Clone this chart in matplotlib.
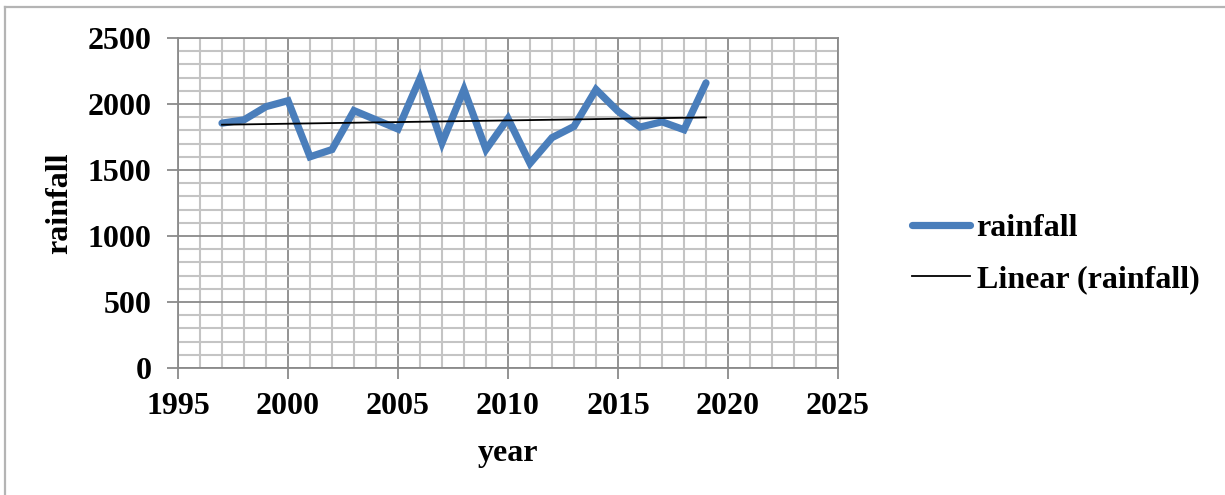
import numpy as np
import matplotlib
matplotlib.use("Agg")
import matplotlib.pyplot as plt
from matplotlib.ticker import MultipleLocator
from matplotlib.lines import Line2D

# Annual rainfall series
years = [1997, 1998, 1999, 2000, 2001, 2002, 2003, 2004, 2005, 2006, 2007, 2008,
         2009, 2010, 2011, 2012, 2013, 2014, 2015, 2016, 2017, 2018, 2019]
rainfall = [1855, 1880, 1980, 2025, 1600, 1655, 1950, 1880, 1810, 2195, 1705, 2110,
            1655, 1890, 1550, 1745, 1830, 2110, 1945, 1825, 1865, 1805, 2160]

x_ticks = [1995, 2000, 2005, 2010, 2015, 2020, 2025]
y_ticks = [0, 500, 1000, 1500, 2000, 2500]

plt.rcParams["font.family"] = ["Liberation Serif", "DejaVu Serif"]
plt.rcParams["font.weight"] = "bold"
FS = 23

W, H = 1225, 495
fig = plt.figure(figsize=(W / 100, H / 100), dpi=100)
fig.patch.set_facecolor("white")

# page frame lines (top and left)
border = "#b4b4b4"
fig.add_artist(Line2D([5 / W, 1.0], [1 - 7 / H, 1 - 7 / H], color=border, lw=1.6,
                      transform=fig.transFigure))
fig.add_artist(Line2D([5 / W, 5 / W], [0.0, 1 - 7 / H], color=border, lw=1.6,
                      transform=fig.transFigure))

ax = fig.add_axes([178 / W, 1 - 368 / H, (838 - 178) / W, (368 - 38) / H])

major_c = "#8a8a8a"
minor_c = "#c4c4c4"

ax.set_xlim(1995, 2025)
ax.set_ylim(0, 2500)
ax.xaxis.set_major_locator(MultipleLocator(5))
ax.xaxis.set_minor_locator(MultipleLocator(1))
ax.yaxis.set_major_locator(MultipleLocator(500))
ax.yaxis.set_minor_locator(MultipleLocator(100))
ax.set_xticks(x_ticks)
ax.set_yticks(y_ticks)

ax.grid(which="minor", color=minor_c, lw=1.5, zorder=0)
ax.grid(which="major", color=major_c, lw=1.3, zorder=0.5)
ax.set_axisbelow(True)

for s in ax.spines.values():
    s.set_color(major_c)
    s.set_linewidth(1.3)

ax.tick_params(which="major", length=8, width=1.3, color=major_c, direction="out",
               labelsize=FS)
ax.tick_params(axis="x", which="major", pad=9)
ax.tick_params(axis="y", which="major", pad=11)
ax.tick_params(which="minor", length=0)
for lab in ax.get_xticklabels() + ax.get_yticklabels():
    lab.set_fontweight("bold")

# data line
ax.plot(years, rainfall, color="#4a7ebb", lw=5.2, solid_joinstyle="miter",
        solid_capstyle="round", label="rainfall", zorder=3)

# least-squares trend
coef = np.polyfit(years, rainfall, 1)
trend = np.polyval(coef, years)
ax.plot(years, trend, color="black", lw=1.3, label="Linear (rainfall)", zorder=4)

ax.set_xlabel("year", fontsize=FS, fontweight="bold", labelpad=13)
ax.set_ylabel("rainfall", fontsize=FS, fontweight="bold", labelpad=10)

leg = fig.legend(loc="center left", bbox_to_anchor=(912 / W, 1 - 254 / H),
                 frameon=False, fontsize=FS, handlelength=1.82, handletextpad=0.2,
                 borderpad=0, borderaxespad=0, labelspacing=0.7)
for t in leg.get_texts():
    t.set_fontweight("bold")

fig.savefig("out.png", dpi=100, facecolor="white")
